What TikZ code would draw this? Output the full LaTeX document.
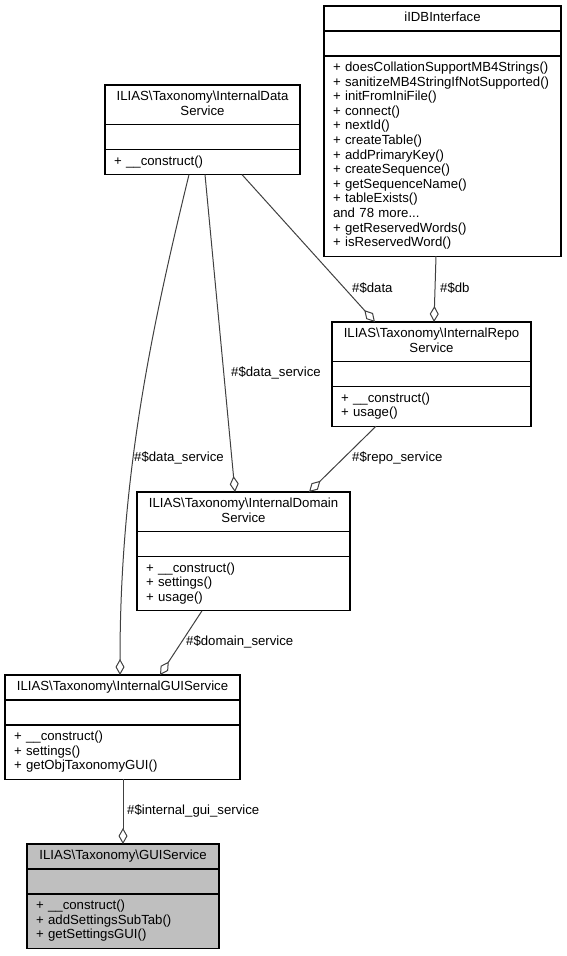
\documentclass[tikz,border=0pt]{standalone}
\usepackage{fontspec}
\setmainfont{Liberation Sans}
\usetikzlibrary{positioning,arrows.meta}

\begin{document}
\begin{tikzpicture}[
    x=1pt,y=-1pt,
    font=\fontsize{13.2}{14.6}\selectfont,
    classpart/.style={
      draw,line width=1.2pt,inner xsep=9pt,inner ysep=5.2pt,outer sep=0pt,
      text width=#1,align=left,
      execute at begin node=\noindent\strut,
      execute at end node=\strut
    },
    classtitle/.style={
      classpart=#1,align=center,anchor=north west
    },
    aggr/.style={
      draw=black!75,line width=1pt,
      -{Diamond[open,length=16pt,width=9pt]}
    },
    edgelabel/.style={
      inner sep=0pt,anchor=west
    }]

  \useasboundingbox (0,0) rectangle (566,956);

  % iIDBInterface
  \node[classtitle=219] (iidb) at (324,6) {iIDBInterface};
  \node[classpart=219,below=0pt of iidb] (iidb-attr) {};
  \node[classpart=219,below=0pt of iidb-attr] (iidb-ops) {+ doesCollationSupportMB4Strings()\\
    + sanitizeMB4StringIfNotSupported()\\
    + initFromIniFile()\\
    + connect()\\
    + nextId()\\
    + createTable()\\
    + addPrimaryKey()\\
    + createSequence()\\
    + getSequenceName()\\
    + tableExists()\\
    and 78 more...\\
    + getReservedWords()\\
    + isReservedWord()};

  % InternalDataService
  \node[classtitle=177] (idata) at (105,85) {ILIAS\textbackslash{}Taxonomy\textbackslash{}InternalData\\Service};
  \node[classpart=177,below=0pt of idata] (idata-attr) {};
  \node[classpart=177,below=0pt of idata-attr] (idata-ops) {+ \_\_construct()};

  % InternalRepoService
  \node[classtitle=181] (irepo) at (332,322) {ILIAS\textbackslash{}Taxonomy\textbackslash{}InternalRepo\\Service};
  \node[classpart=181,below=0pt of irepo] (irepo-attr) {};
  \node[classpart=181,below=0pt of irepo-attr] (irepo-ops) {+ \_\_construct()\\
    + usage()};

  % InternalDomainService
  \node[classtitle=195] (idomain) at (137,492) {ILIAS\textbackslash{}Taxonomy\textbackslash{}InternalDomain\\Service};
  \node[classpart=195,below=0pt of idomain] (idomain-attr) {};
  \node[classpart=195,below=0pt of idomain-attr] (idomain-ops) {+ \_\_construct()\\
    + settings()\\
    + usage()};

  % InternalGUIService
  \node[classtitle=217] (igui) at (5,675) {ILIAS\textbackslash{}Taxonomy\textbackslash{}InternalGUIService};
  \node[classpart=217,below=0pt of igui] (igui-attr) {};
  \node[classpart=217,below=0pt of igui-attr] (igui-ops) {+ \_\_construct()\\
    + settings()\\
    + getObjTaxonomyGUI()};

  % GUIService
  \node[classtitle=174,fill=black!25] (gui) at (27,844) {ILIAS\textbackslash{}Taxonomy\textbackslash{}GUIService};
  \node[classpart=174,fill=black!25,below=0pt of gui] (gui-attr) {};
  \node[classpart=174,fill=black!25,below=0pt of gui-attr] (gui-ops) {+ \_\_construct()\\
    + addSettingsSubTab()\\
    + getSettingsGUI()};

  % aggregations
  \draw[aggr] ([xshift=84]idata-ops.south west) .. controls +(-39,160) and +(0,-195) .. ([xshift=115]igui.north west);
  \draw[aggr] ([xshift=100]idata-ops.south west) -- ([xshift=98]idomain.north west);
  \draw[aggr] ([xshift=137]idata-ops.south west) -- ([xshift=43]irepo.north west);
  \draw[aggr] ([xshift=112]iidb-ops.south west) -- ([xshift=102]irepo.north west);
  \draw[aggr] ([xshift=44]irepo-ops.south west) -- ([xshift=172]idomain.north west);
  \draw[aggr] ([xshift=65]idomain-ops.south west) -- ([xshift=155]igui.north west);
  \draw[aggr] ([xshift=118]igui-ops.south west) -- ([xshift=96]gui.north west);

  \node[edgelabel] (l-data1) at (134,458) {\#\$data\_service};
  \node[edgelabel] (l-data2) at (231,373) {\#\$data\_service};
  \node[edgelabel] (l-data3) at (352,288) {\#\$data};
  \node[edgelabel] (l-db) at (440,288) {\#\$db};
  \node[edgelabel] (l-repo) at (352,458) {\#\$repo\_service};
  \node[edgelabel] (l-domain) at (186,642) {\#\$domain\_service};
  \node[edgelabel] (l-gui) at (127,811) {\#\$internal\_gui\_service};
\end{tikzpicture}
\end{document}
